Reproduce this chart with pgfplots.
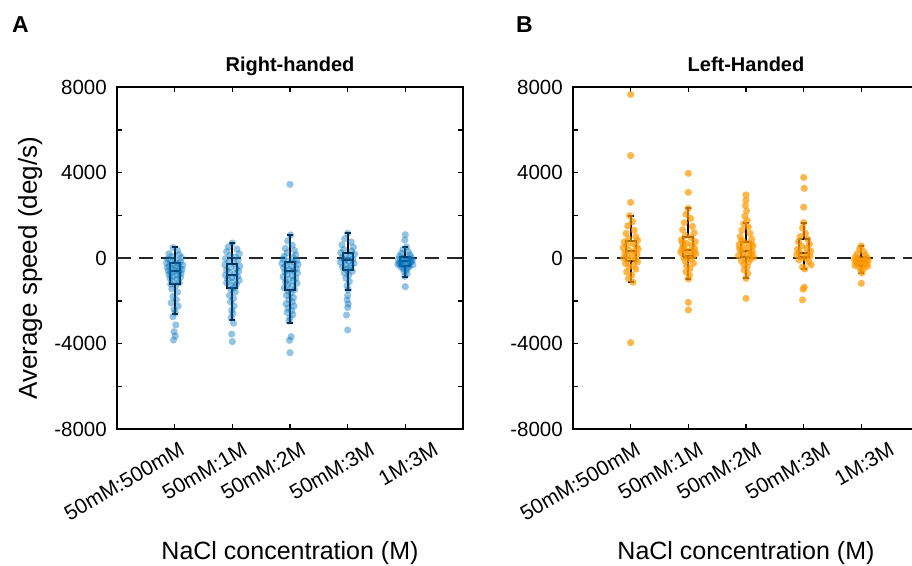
\documentclass[border=0pt]{standalone}
\usepackage{fontspec}
\setmainfont{Liberation Sans}
\usepackage{pgfplots}
\pgfplotsset{compat=1.18}
\definecolor{mblue}{RGB}{0,114,189}
\definecolor{morange}{RGB}{255,153,0}
\pgfplotsset{
 panel/.style={
  width=346pt, height=342pt, scale only axis,
  xmin=0, xmax=6, ymin=-8000, ymax=8000,
  xtick={1,2,3,4,5},
  xticklabels={,,,,},
  extra x ticks={0.705,1.792,2.809,4.0,5.104},
  extra x tick labels={50mM:500mM,50mM:1M,50mM:2M,50mM:3M,1M:3M},
  extra x tick style={major tick length=0pt},
  ytick={-8000,-6000,-4000,-2000,0,2000,4000,6000,8000},
  yticklabels={-8000,,-4000,,0,,4000,,8000},
  tick align=inside, major tick length=5pt,
  axis line style={line width=1.5pt},
  every tick/.style={black, line width=1.5pt},
  tick label style={font=\fontsize{20.5}{24}\selectfont},
  xticklabel style={font=\fontsize{21}{24}\selectfont, rotate=30, anchor=north east, inner sep=0pt, yshift=-21pt, xshift=12pt},
  yticklabel style={inner sep=0pt, xshift=-10pt},
  xlabel={NaCl concentration (M)},
  xlabel style={font=\fontsize{25}{30}\selectfont, at={(axis description cs:0.5,-0.383)}, anchor=base},
  title style={font=\bfseries\fontsize{20}{24}\selectfont, at={(axis description cs:0.5,1)}, anchor=base, yshift=10pt},
 },
 zeroline/.style={line width=1.5pt, color=black!85, dash pattern=on 14pt off 8pt, mark=none},
 bdots/.style={only marks, mark=*, mark size=3.6pt, mark options={draw opacity=0, fill=mblue, fill opacity=0.42}},
 odots/.style={only marks, mark=*, mark size=3.6pt, mark options={draw opacity=0, fill=morange, fill opacity=0.7}},
 bxs/.style={black, line width=2pt, fill=white, fill opacity=0.45, draw opacity=1, solid, mark=none, line join=miter},
 wk/.style={black, line width=2pt, solid, mark=none},
}
% box: left, right, q1, median, q3
\newcommand{\bbox}[5]{%
 \addplot[bxs] coordinates {(#1,#3)(#2,#3)(#2,#5)(#1,#5)} -- cycle;
 \addplot[wk] coordinates {(#1,#4)(#2,#4)};}
% whisker: x, capL, capR, from, to
\newcommand{\bwh}[5]{%
 \addplot[wk] coordinates {(#1,#4)(#1,#5)(#2,#5)(#3,#5)};}
\begin{document}
\begin{tikzpicture}
% ---------------- Panel A ----------------
\begin{axis}[panel, at={(117pt,136pt)}, anchor=south west,
  title={Right-handed},
  ylabel={Average speed (deg/s)},
  ylabel style={font=\fontsize{26}{30}\selectfont, at={(axis description cs:-0.251,0.47)}, anchor=center}]
\addplot[zeroline] coordinates {(0,0) (6,0)};
% 50mM:500mM
\addplot[bdots] coordinates {(0.97,480)(1.05,350)(0.9,200)(1.08,150)(0.95,80)(1.12,20)(0.88,-50)(1.02,-100)(0.93,-150)(1.1,-180)(0.86,-220)(1.06,-260)(0.98,-300)(1.14,-330)(0.91,-370)(1.03,-400)(0.87,-440)(1.09,-470)(0.95,-510)(1.13,-540)(1.0,-580)(0.89,-600)(1.07,-640)(0.94,-680)(1.11,-720)(0.9,-760)(1.04,-800)(0.97,-850)(1.1,-900)(0.92,-950)(1.05,-1000)(0.96,-1080)(1.08,-1150)(0.93,-1220)(1.02,-1300)(0.95,-1450)(1.05,-1600)(0.97,-1800)(1.03,-1950)(0.94,-2100)(1.06,-2250)(0.99,-2400)(1.01,-2550)(0.97,-2750)(1.02,-3130)(0.99,-3450)(1.01,-3650)(0.98,-3840)};
% 50mM:1M
\addplot[bdots] coordinates {(2.0,700)(1.93,520)(2.08,420)(1.9,300)(2.12,200)(1.96,120)(2.05,40)(1.88,-30)(2.1,-100)(1.94,-180)(2.03,-250)(1.87,-320)(2.13,-380)(1.97,-440)(2.07,-500)(1.9,-560)(2.11,-620)(1.95,-680)(2.04,-740)(1.88,-800)(2.09,-860)(1.99,-920)(1.92,-980)(2.12,-1040)(2.02,-1100)(1.9,-1160)(2.07,-1230)(1.96,-1300)(2.04,-1380)(1.98,-1480)(2.05,-1600)(1.95,-1750)(2.02,-1900)(1.97,-2050)(2.03,-2250)(1.99,-2450)(2.01,-2600)(1.98,-2800)(2.02,-3050)(1.99,-3560)(2.0,-3910)};
% 50mM:2M
\addplot[bdots] coordinates {(3.0,3446)(3.01,1080)(2.96,800)(3.04,600)(2.92,450)(3.08,350)(2.95,250)(3.1,150)(2.9,80)(3.05,20)(2.88,-50)(3.12,-100)(2.97,-150)(3.07,-200)(2.86,-250)(3.14,-300)(2.93,-350)(3.03,-400)(2.89,-450)(3.11,-500)(2.99,-550)(3.06,-600)(2.91,-650)(3.13,-700)(2.95,-760)(3.04,-820)(2.88,-880)(3.1,-940)(2.98,-1000)(3.06,-1060)(2.92,-1120)(3.12,-1180)(2.96,-1250)(3.03,-1320)(2.9,-1400)(3.08,-1480)(2.97,-1560)(3.02,-1650)(2.94,-1750)(3.06,-1850)(2.98,-1950)(3.04,-2050)(2.93,-2150)(3.07,-2250)(2.97,-2350)(3.03,-2450)(2.95,-2550)(3.05,-2650)(3.0,-2800)(2.98,-2950)(3.02,-3680)(2.99,-3850)(3.0,-4430)};
% 50mM:3M
\addplot[bdots] coordinates {(4.0,1150)(3.95,900)(4.06,750)(3.9,620)(4.1,500)(3.93,400)(4.07,320)(3.88,250)(4.12,180)(3.97,120)(4.04,60)(3.9,0)(4.09,-50)(3.95,-100)(4.02,-150)(3.87,-200)(4.11,-250)(3.96,-300)(4.06,-350)(3.91,-420)(4.03,-480)(3.98,-550)(4.08,-620)(3.94,-700)(4.02,-800)(3.97,-950)(4.03,-1100)(3.99,-1300)(4.01,-1490)(4.0,-1760)(3.99,-1965)(4.01,-2150)(4.0,-2320)(3.98,-2670)(4.0,-3370)};
% 1M:3M
\addplot[bdots] coordinates {(5.0,1090)(4.99,840)(5.02,520)(4.96,400)(5.05,300)(4.93,220)(5.08,150)(4.9,90)(5.1,40)(4.95,0)(5.04,-30)(4.88,-60)(5.12,-90)(4.97,-110)(5.06,-140)(4.91,-170)(5.09,-200)(4.94,-230)(5.03,-260)(4.87,-290)(5.13,-320)(4.98,-350)(5.07,-380)(4.92,-410)(5.05,-450)(4.96,-500)(5.02,-560)(4.98,-640)(5.03,-730)(4.99,-860)(5.0,-1340)(5.11,-150)(4.89,-250)(5.08,-60)(4.93,-320)};
% boxes
\bwh{1}{0.95}{1.05}{-250}{500}   \bwh{1}{0.95}{1.05}{-1216}{-2620}
\bbox{0.915}{1.085}{-1216}{-590}{-250}
\bwh{2}{1.95}{2.05}{-281}{717}   \bwh{2}{1.95}{2.05}{-1388}{-2900}
\bbox{1.915}{2.085}{-1388}{-795}{-281}
\bwh{3}{2.95}{3.05}{-203}{1092}  \bwh{3}{2.95}{3.05}{-1497}{-3025}
\bbox{2.915}{3.085}{-1497}{-593}{-203}
\bwh{4}{3.95}{4.05}{218}{1154}   \bwh{4}{3.95}{4.05}{-561}{-1497}
\bbox{3.915}{4.085}{-561}{-109}{218}
\bwh{5}{4.95}{5.05}{31}{530}     \bwh{5}{4.95}{5.05}{-390}{-873}
\bbox{4.915}{5.085}{-390}{-140}{31}
\end{axis}
% ---------------- Panel B ----------------
\begin{axis}[panel, at={(573pt,136pt)}, anchor=south west,
  title={Left-Handed}]
\addplot[zeroline] coordinates {(0,0) (6,0)};
\addplot[odots] coordinates {(1.0,7650)(1.0,4790)(1.0,2600)(0.98,1980)(1.03,1700)(0.95,1500)(1.06,1300)(0.92,1150)(1.09,1000)(0.96,900)(1.12,820)(0.89,750)(1.04,680)(0.93,600)(1.1,540)(0.87,480)(1.13,420)(0.97,360)(1.06,300)(0.9,240)(1.11,180)(0.94,120)(1.03,60)(0.88,0)(1.08,-60)(0.95,-120)(1.12,-180)(0.91,-260)(1.05,-340)(0.97,-420)(1.09,-520)(0.93,-650)(1.02,-800)(0.96,-950)(1.04,-1130)(1.0,-3960)};
\addplot[odots] coordinates {(2.0,3960)(2.0,3070)(2.0,2320)(1.96,2050)(2.04,1850)(1.93,1650)(2.07,1480)(1.9,1320)(2.1,1180)(1.95,1050)(2.05,950)(1.88,850)(2.12,760)(1.97,680)(2.06,600)(1.91,520)(2.11,450)(1.94,380)(2.03,320)(1.87,260)(2.13,200)(1.98,140)(2.08,80)(1.92,20)(2.04,-60)(1.95,-150)(2.09,-250)(1.97,-370)(2.03,-500)(1.96,-650)(2.02,-800)(2.0,-980)(2.0,-2075)(2.0,-2430)(1.9,700)(2.1,300)(1.89,400)};
\addplot[odots] coordinates {(3.0,2950)(3.0,2700)(2.99,2450)(3.01,2200)(2.98,1950)(3.02,1750)(2.96,1600)(3.04,1450)(2.93,1300)(3.07,1150)(2.9,1000)(3.1,880)(2.95,780)(3.05,700)(2.88,620)(3.12,550)(2.97,480)(3.06,410)(2.91,350)(3.11,290)(2.94,230)(3.03,170)(2.87,110)(3.13,50)(2.98,0)(3.08,-60)(2.92,-130)(3.04,-200)(2.96,-300)(3.02,-420)(2.97,-560)(3.03,-720)(3.0,-950)(3.0,-1890)(2.89,450)(3.1,650)(2.92,800)(3.09,200)};
\addplot[odots] coordinates {(4.0,3770)(4.01,3260)(4.0,2380)(4.0,1650)(3.98,1400)(4.03,1150)(3.94,1000)(4.07,880)(3.91,760)(4.1,650)(3.96,560)(4.05,470)(3.89,400)(4.12,330)(3.93,270)(4.06,210)(3.88,150)(4.11,90)(3.97,40)(4.04,-20)(3.92,-90)(4.09,-180)(4.13,-320)(3.98,-420)(4.02,-510)(4.01,-1370)(3.99,-1460)(3.98,-1960)};
\addplot[odots] coordinates {(5.0,560)(4.97,420)(5.04,300)(4.93,200)(5.07,130)(4.9,60)(5.1,10)(4.95,-30)(5.05,-70)(4.88,-100)(5.12,-130)(4.98,-160)(5.03,-190)(4.91,-220)(5.09,-250)(4.94,-280)(5.06,-320)(4.89,-350)(5.11,-390)(4.97,-440)(5.04,-500)(4.99,-580)(5.01,-700)(5.0,-1185)(4.92,-50)(5.08,-280)};
% boxes
\bwh{1}{0.95}{1.05}{795}{1981}   \bwh{1}{0.95}{1.05}{-125}{-1138}
\bbox{0.915}{1.085}{-125}{343}{795}
\bwh{2}{1.95}{2.05}{998}{2324}   \bwh{2}{1.95}{2.05}{94}{-982}
\bbox{1.915}{2.085}{94}{374}{998}
\bwh{3}{2.95}{3.05}{733}{1622}   \bwh{3}{2.95}{3.05}{62}{-952}
\bbox{2.915}{3.085}{62}{328}{733}
\bwh{4}{3.95}{4.05}{905}{1653}   \bwh{4}{3.95}{4.05}{31}{-515}
\bbox{3.915}{4.085}{31}{250}{905}
\bwh{5}{4.95}{5.05}{31}{561}     \bwh{5}{4.95}{5.05}{-327}{-717}
\bbox{4.915}{5.085}{-327}{-140}{31}
\end{axis}
\node[anchor=base west, inner sep=0pt, font=\bfseries\fontsize{23}{27}\selectfont] at (12pt,532pt) {A};
\node[anchor=base west, inner sep=0pt, font=\bfseries\fontsize{23}{27}\selectfont] at (516pt,532pt) {B};
\pgfresetboundingbox
\path[use as bounding box] (0pt,0pt) rectangle (912pt,565pt);
\end{tikzpicture}
\end{document}
